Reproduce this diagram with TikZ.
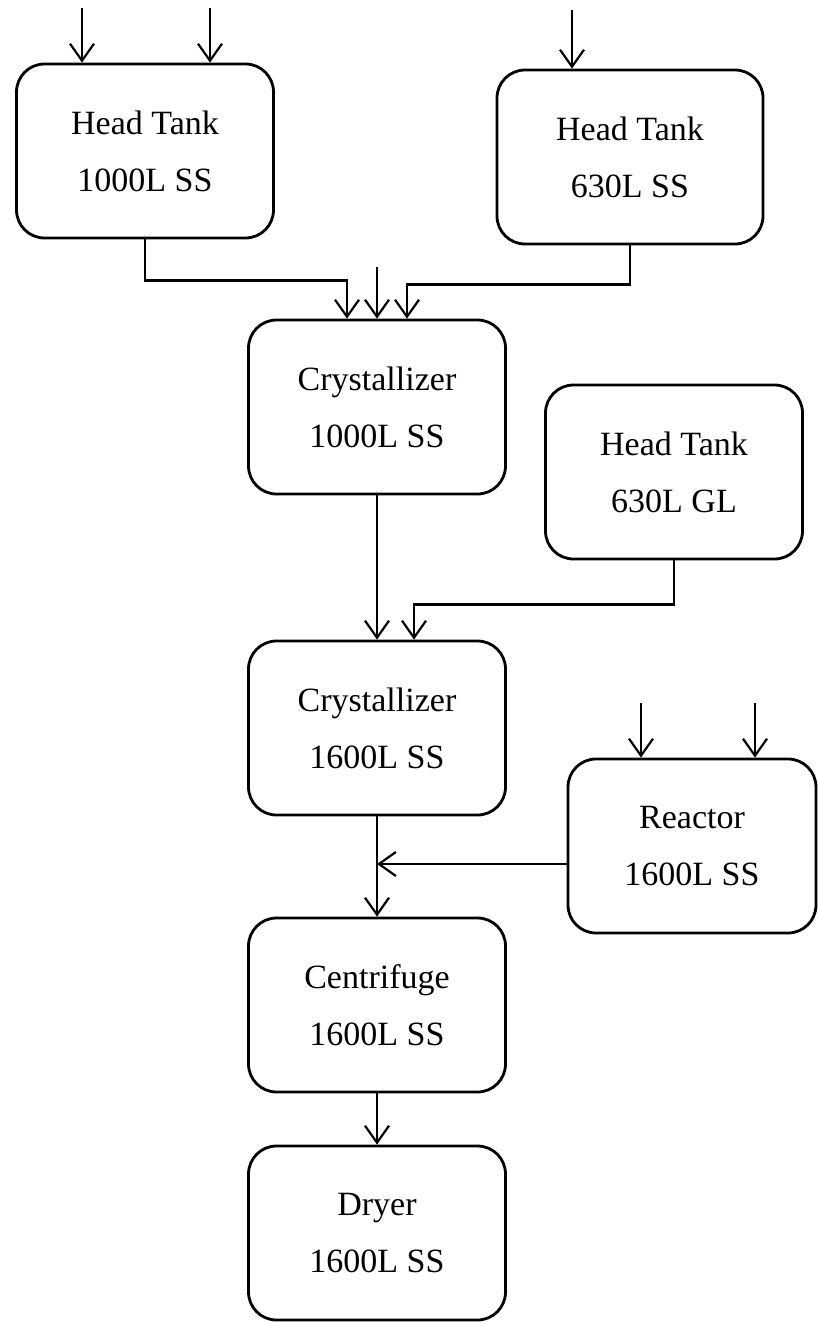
\documentclass[tikz,border=0pt]{standalone}
\usepackage{fontspec}
\setmainfont{Liberation Serif}
\usetikzlibrary{arrows.meta,positioning}

\begin{document}
\begin{tikzpicture}[x=1pt,y=-1pt,->,>={Straight Barb[length=17pt,width=24pt]},line width=2.2pt,
    unit/.style={draw,rounded corners=28pt,line width=2.8pt,minimum width=257pt,minimum height=174pt,
      align=center,font=\fontsize{34}{57}\selectfont}]
  \useasboundingbox (0,0) rectangle (817,1322);

  \node[unit]                     (ht1) at (145,151)  {Head Tank\\1000L SS};
  \node[unit,minimum width=266pt] (ht2) at (630,157)  {Head Tank\\630L SS};
  \node[unit]                     (cr1) at (377,407)  {Crystallizer\\1000L SS};
  \node[unit]                     (ht3) at (674,472)  {Head Tank\\630L GL};
  \node[unit]                     (cr2) at (377,728)  {Crystallizer\\1600L SS};
  \node[unit,minimum width=248pt] (rx)  at (692,846)  {Reactor\\1600L SS};
  \node[unit]                     (cf)  at (377,1005) {Centrifuge\\1600L SS};
  \node[unit]                     (dr)  at (377,1233) {Dryer\\1600L SS};

  \coordinate (in1) at (82,8);
  \coordinate (in2) at (210,8);
  \coordinate (in3) at (572,10);
  \coordinate (in4) at (377,267);
  \coordinate (in5) at (641,703);
  \coordinate (in6) at (755,703);

  \path (in1) edge (in1 |- ht1.north)
        (in2) edge (in2 |- ht1.north)
        (in3) edge (in3 |- ht2.north)
        (in4) edge (cr1.north)
        (in5) edge (in5 |- rx.north)
        (in6) edge (in6 |- rx.north)
        (cr1) edge (cr2)
        (cr2) edge (cf)
        (cf)  edge (dr);

  \draw (ht1.south) -- ++(0,41) -| ([xshift=-30pt]cr1.north);
  \draw (ht2.south) -- ++(0,39) -| ([xshift=30pt]cr1.north);
  \draw (ht3.south) -- ++(0,44) -| ([xshift=37pt]cr2.north);
  \draw ([yshift=-18pt]rx.west) -- ([yshift=-18pt]rx.west -| cr2.south);
\end{tikzpicture}
\end{document}
